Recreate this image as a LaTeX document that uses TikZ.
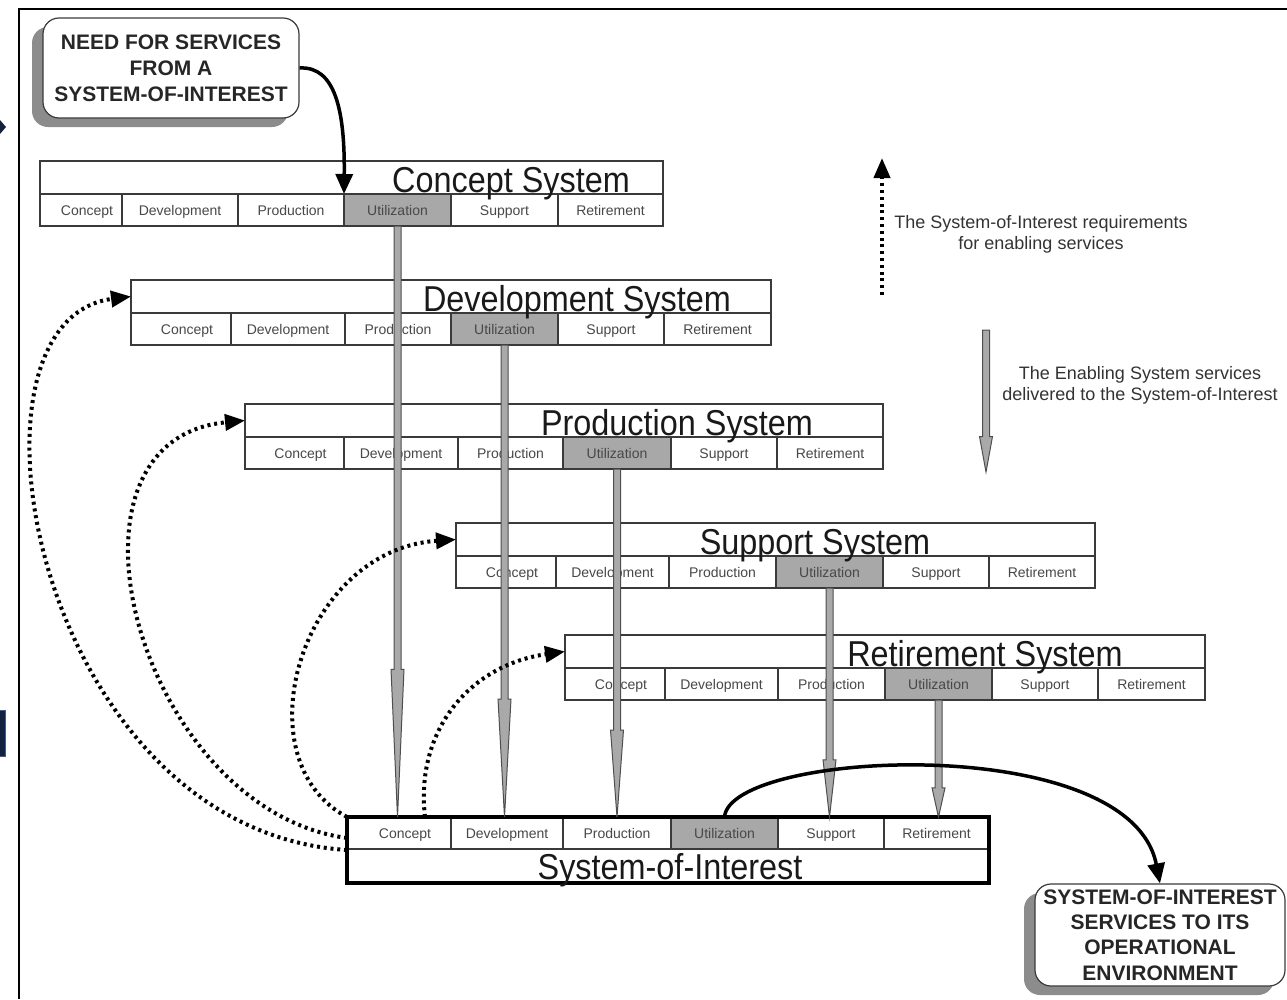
\documentclass[tikz,border=0pt]{standalone}
\usepackage{fontspec}
\setmainfont{Liberation Sans}
\usepackage{graphicx}
\usetikzlibrary{arrows.meta,calc,shadows}

\definecolor{boxline}{HTML}{3A3A3A}
\definecolor{cellgray}{HTML}{A8A8A8}
\definecolor{celltext}{HTML}{484848}
\definecolor{svcfill}{HTML}{A9A9A9}
\definecolor{svcline}{HTML}{4E4E4E}
\definecolor{navy}{HTML}{14213D}
\definecolor{navyedge}{HTML}{3A5A9A}

\newcommand\ttl[1]{\scalebox{0.9}[1]{#1}}

% one row of the six life-cycle stage cells: prefix, top y, seven x edges
\newcommand\cellrow[9]{%
  \foreach \k/\xa/\xb/\txt/\fc in {1/#3/#4/{\hspace*{12pt}Concept}/white,2/#4/#5/Development/white,3/#5/#6/Production/white,4/#6/#7/Utilization/cellgray,5/#7/#8/Support/white,6/#8/#9/Retirement/white}
    {\node[cell, fill=\fc, minimum width={\xb-\xa}, anchor=north west] (#1-\k) at (\xa,#2) {\txt};}%
}
% an enabling system: empty title band above the cell row
\newcommand\lifecycle[9]{%
  \node[titlerow, minimum width={#9-#3}, anchor=south west] (#1) at (#3,#2) {};
  \cellrow{#1}{#2}{#3}{#4}{#5}{#6}{#7}{#8}{#9}%
}
% grey service arrow with a long tapering head
\newcommand\svcarrow[2]{%
  \coordinate (svc-m) at ($(#1)!0.75!(#2)$);
  \filldraw[svc] ([xshift=-3.5]#1) -- ([xshift=-3.5]svc-m) -- ([xshift=-6.5]svc-m) -- (#2)
     -- ([xshift=6.5]svc-m) -- ([xshift=3.5]svc-m) -- ([xshift=3.5]#1) -- cycle;%
}

\tikzset{
  cell/.style={draw=boxline, line width=1.5, inner sep=0, outer sep=0, minimum height=32,
    text height=12, text depth=2,
    font=\fontsize{14}{14}\selectfont, text=celltext},
  titlerow/.style={draw=boxline, line width=1.5, fill=white, inner sep=0, outer sep=0, minimum height=33},
  title/.style={font=\fontsize{36}{36}\selectfont, text=black!90, inner sep=0, anchor=base},
  svc/.style={fill=svcfill, draw=svcline, line width=1},
  flow/.style={line width=3.5, black, -{Triangle[length=20pt,width=17pt]}},
  req/.style={line width=4, black, dash pattern=on 3pt off 3.8pt,
    -{Triangle[length=20pt,width=16pt]}},
  callout/.style={draw=boxline, fill=white, rounded corners=16, line width=1.2, align=center,
    inner sep=0, text=black!85,
    drop shadow={shadow xshift=-11pt, shadow yshift=-9pt, fill=black!45, opacity=1}},
  legend/.style={align=center, font=\fontsize{18}{21}\selectfont, text=black!80, inner sep=0},
}

\begin{document}
\begin{tikzpicture}[x=1pt,y=-1pt]
\useasboundingbox (0,0) rectangle (1287,999);

% frame and edge marks
\draw[line width=2.2] (19,999) -- (19,9) -- (1287,9);
\fill[navy] (0,120) -- (6,127) -- (0,134) -- cycle;
\filldraw[fill=navy, draw=navyedge, line width=1] (-1,710) rectangle (5,756);

% callouts
\node[callout, minimum width=256, minimum height=100,
      font=\fontsize{21}{26}\selectfont\bfseries] (need) at (171,68)
  {NEED FOR SERVICES\\FROM A\\SYSTEM-OF-INTEREST};
\node[callout, minimum width=250, minimum height=102,
      font=\fontsize{21}{25.3}\selectfont\bfseries] (out) at (1160,935)
  {SYSTEM-OF-INTEREST\\SERVICES TO ITS\\OPERATIONAL\\ENVIRONMENT};

% enabling systems
\lifecycle{c}{194}{40}{122}{238}{344}{451}{558}{663}
\lifecycle{d}{313}{131}{231}{345}{451}{558}{664}{771}
\lifecycle{p}{437}{245}{344}{458}{563}{671}{777}{883}
\lifecycle{s}{556}{456}{556}{669}{776}{883}{989}{1095}
\lifecycle{r}{668}{565}{665}{778}{885}{992}{1098}{1205}

\node[title] (c-title) at (511,192) {\ttl{Concept System}};
\node[title] (d-title) at (577,311) {\ttl{Development System}};
\node[title] (p-title) at (677,435) {\ttl{Production System}};
\node[title] (s-title) at (815,554) {\ttl{Support System}};
\node[title] (r-title) at (985,666) {\ttl{Retirement System}};

% system of interest
\cellrow{soi}{817}{347}{451}{563}{671}{778}{884}{989}
\node[draw=black, line width=4, minimum width=642, minimum height=66, inner sep=0, outer sep=0,
      anchor=north west] (soi) at (347,817) {};
\node[title] (soi-title) at (670,879) {\ttl{System-of-Interest}};

% services delivered by the enabling systems
\coordinate (c-end) at (c-4.south |- soi.north);
\coordinate (d-end) at (d-4.south |- soi.north);
\coordinate (p-end) at (p-4.south |- soi.north);
\coordinate (s-end) at (s-4.south |- soi.north);
\coordinate (r-end) at (r-4.south |- soi.north);
\svcarrow{c-4.south}{c-end}
\svcarrow{d-4.south}{d-end}
\svcarrow{p-4.south}{p-end}
\svcarrow{s-4.south}{s-end}
\svcarrow{r-4.south}{r-end}

% need and operational services
\draw[flow] (need.east) .. controls (335,66) and (345,110) .. (c-4.north west);
\draw[flow] (soi-4.north) .. controls (730,750) and (1130,730) .. (out.north);

% requirements for enabling services
\draw[req] (soi.west) .. controls (35,830) and (-55,320) .. (d.west);
\draw[req] ([yshift=12]soi.west) .. controls (140,810) and (40,440) .. (p.west);
\draw[req] (soi.north west) .. controls (240,760) and (300,550) .. (s.west);
\draw[req] ($(soi-1.north)!0.5!(soi-1.north east)$) .. controls (415,730) and (470,665) .. (r.west);

% legend
\coordinate (lr-a) at (882,295);
\coordinate (lr-b) at (882,158);
\draw[req] (lr-a) -- (lr-b);
\node[legend] (lr-t) at (1041,234) {The System-of-Interest requirements\\for enabling services};
\coordinate (ls-a) at (986,330);
\coordinate (ls-b) at (986,472);
\svcarrow{ls-a}{ls-b}
\node[legend] (ls-t) at (1140,385) {The Enabling System services\\delivered to the System-of-Interest};
\end{tikzpicture}
\end{document}
